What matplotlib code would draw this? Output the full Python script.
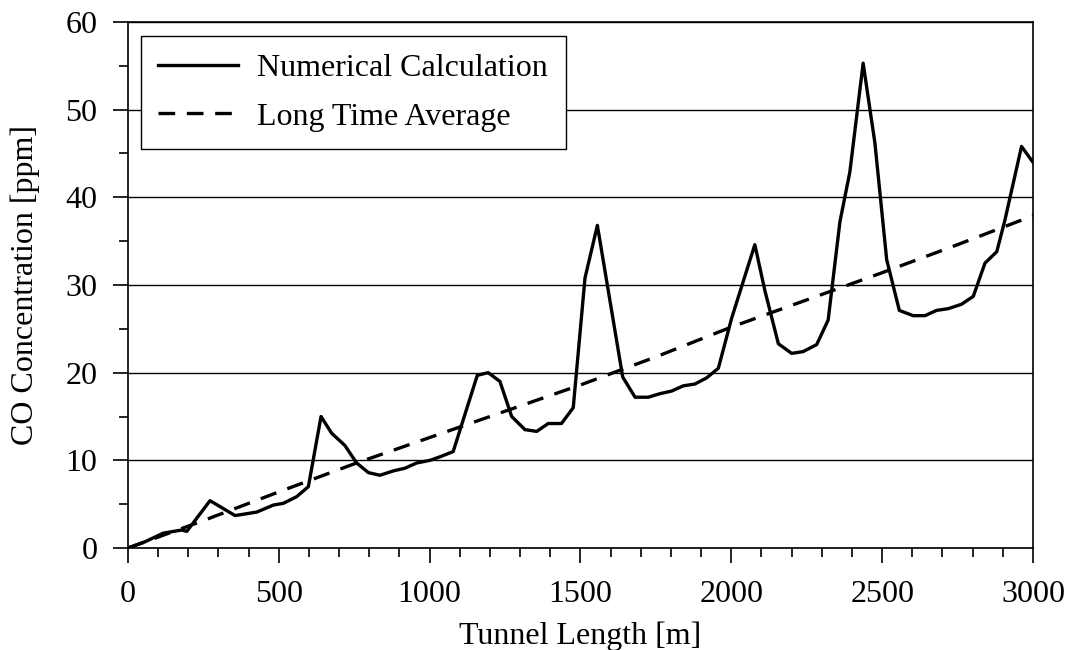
import matplotlib
matplotlib.use('Agg')
import matplotlib.pyplot as plt
from matplotlib.ticker import MultipleLocator

# numerical calculation (solid)
calc_x = [0, 56, 117, 178, 195, 272, 355, 427, 482, 515, 559, 598, 640, 675, 719, 758,
          797, 835, 880, 918, 957, 1001, 1034, 1078, 1158, 1194, 1233, 1272, 1316, 1355,
          1393, 1437, 1476, 1515, 1556, 1640, 1681, 1725, 1763, 1802, 1841, 1879, 1918,
          1957, 2001, 2078, 2111, 2156, 2200, 2238, 2283, 2321, 2360, 2393, 2437, 2476,
          2515, 2557, 2603, 2642, 2680, 2719, 2763, 2802, 2841, 2880, 2907, 2962, 3000]
calc_y = [0, 0.7, 1.7, 2.05, 1.9, 5.4, 3.7, 4.1, 4.9, 5.1, 5.85, 7.0, 15.0, 13.1, 11.7, 9.7,
          8.6, 8.3, 8.8, 9.1, 9.7, 10.0, 10.4, 11.0, 19.7, 20.0, 19.0, 15.0, 13.5, 13.3,
          14.2, 14.2, 16.0, 30.8, 36.8, 19.5, 17.2, 17.2, 17.6, 17.9, 18.5, 18.7, 19.4,
          20.5, 26.2, 34.6, 29.4, 23.3, 22.2, 22.4, 23.2, 26.0, 37.2, 42.9, 55.3, 46.2,
          32.9, 27.1, 26.5, 26.5, 27.1, 27.3, 27.8, 28.7, 32.5, 33.8, 37.4, 45.8, 44.0]

# long time average (dashed)
avg_x = [0, 240, 500, 750, 1000, 1250, 1500, 1750, 2000, 2250, 2500, 2750, 3000]
avg_y = [0, 3.0, 6.4, 9.6, 12.6, 15.6, 18.6, 21.8, 25.2, 28.3, 31.4, 34.6, 37.9]

plt.rcParams['font.family'] = ['Liberation Serif', 'DejaVu Serif']
plt.rcParams['font.size'] = 23

fig = plt.figure(figsize=(10.7, 6.5), dpi=100)
ax = fig.add_axes([0.1196, 0.1569, 0.8458, 0.8093])

ax.plot(calc_x, calc_y, color='black', lw=2.4, label='Numerical Calculation')
ax.plot(avg_x, avg_y, color='black', lw=2.4, ls=(0, (5, 3.5)), label='Long Time Average')

ax.set_xlim(0, 3000)
ax.set_ylim(0, 60)
ax.xaxis.set_major_locator(MultipleLocator(500))
ax.xaxis.set_minor_locator(MultipleLocator(100))
ax.yaxis.set_major_locator(MultipleLocator(10))
ax.yaxis.set_minor_locator(MultipleLocator(5))
ax.tick_params(which='major', direction='out', length=11, width=1.2)
ax.tick_params(axis='x', which='major', pad=12)
ax.tick_params(axis='y', which='major', pad=11)
ax.tick_params(which='minor', direction='out', length=6.5, width=1.2)
ax.yaxis.grid(True, which='major', color='black', lw=1.0)
ax.set_axisbelow(True)
for s in ax.spines.values():
    s.set_linewidth(1.2)

ax.set_xlabel('Tunnel Length [m]', labelpad=9)
ax.set_ylabel('CO Concentration [ppm]', labelpad=18)

leg = ax.legend(loc='upper left', bbox_to_anchor=(0.014, 0.973), frameon=True,
                fancybox=False, edgecolor='black', framealpha=1, handlelength=2.5,
                borderpad=0.55, borderaxespad=0, labelspacing=0.6, handletextpad=0.6)
leg.get_frame().set_linewidth(1.0)

fig.savefig('out.png', dpi=100)
